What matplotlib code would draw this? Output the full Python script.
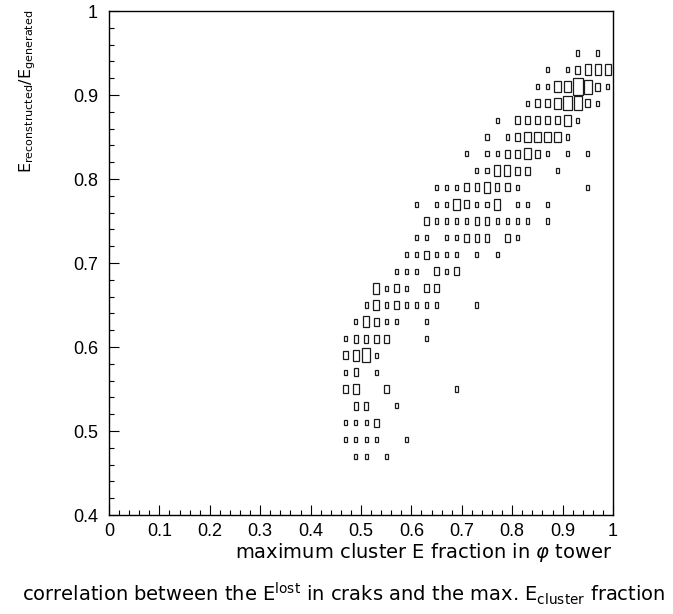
import matplotlib
matplotlib.use("Agg")
import matplotlib.pyplot as plt
from matplotlib.patches import Rectangle

# bin width of the 2D histogram (x and y)
bin_w = 0.02

# filled cells: x centre, y centre, relative content (1 = smallest box)
x_cells = [
    0.49, 0.51, 0.55,                                                  # y=0.47
    0.47, 0.49, 0.51, 0.53, 0.59,                                      # y=0.49
    0.47, 0.49, 0.51, 0.53,                                            # y=0.51
    0.49, 0.51, 0.57,                                                  # y=0.53
    0.47, 0.49, 0.55, 0.69,                                            # y=0.55
    0.47, 0.49, 0.53,                                                  # y=0.57
    0.47, 0.49, 0.51, 0.53,                                            # y=0.59
    0.47, 0.49, 0.51, 0.53, 0.55, 0.63,                                # y=0.61
    0.49, 0.51, 0.53, 0.55, 0.57, 0.63,                                # y=0.63
    0.51, 0.53, 0.55, 0.57, 0.59, 0.61, 0.63, 0.65, 0.73,              # y=0.65
    0.53, 0.55, 0.57, 0.59, 0.63, 0.65,                                # y=0.67
    0.57, 0.59, 0.61, 0.65, 0.67, 0.69,                                # y=0.69
    0.59, 0.61, 0.63, 0.65, 0.67, 0.69, 0.73, 0.77,                    # y=0.71
    0.61, 0.63, 0.67, 0.69, 0.71, 0.73, 0.75, 0.79, 0.81,              # y=0.73
    0.63, 0.65, 0.67, 0.69, 0.71, 0.73, 0.75, 0.77, 0.79, 0.81, 0.83, 0.87,  # y=0.75
    0.61, 0.65, 0.67, 0.69, 0.71, 0.73, 0.75, 0.77, 0.81, 0.83, 0.87,  # y=0.77
    0.65, 0.67, 0.69, 0.71, 0.73, 0.75, 0.77, 0.79, 0.81, 0.95,        # y=0.79
    0.73, 0.75, 0.77, 0.79, 0.81, 0.83, 0.89,                          # y=0.81
    0.71, 0.75, 0.77, 0.79, 0.81, 0.83, 0.85, 0.87, 0.91, 0.95,        # y=0.83
    0.75, 0.79, 0.81, 0.83, 0.85, 0.87, 0.89, 0.91,                    # y=0.85
    0.77, 0.81, 0.83, 0.85, 0.87, 0.89, 0.91, 0.93,                    # y=0.87
    0.83, 0.85, 0.87, 0.89, 0.91, 0.93, 0.95, 0.97,                    # y=0.89
    0.85, 0.87, 0.89, 0.91, 0.93, 0.95, 0.97, 0.99,                    # y=0.91
    0.87, 0.91, 0.93, 0.95, 0.97, 0.99,                                # y=0.93
    0.93, 0.97,                                                        # y=0.95
]
y_rows = [0.47, 0.49, 0.51, 0.53, 0.55, 0.57, 0.59, 0.61, 0.63, 0.65, 0.67, 0.69, 0.71,
          0.73, 0.75, 0.77, 0.79, 0.81, 0.83, 0.85, 0.87, 0.89, 0.91, 0.93, 0.95]
row_sizes = [3, 5, 4, 3, 4, 3, 4, 6, 6, 9, 6, 6, 8, 9, 12, 11, 10, 7, 10, 8, 8, 8, 8, 6, 2]
counts = [
    1, 1, 1,
    1, 1, 1, 1, 1,
    1, 1, 1, 2,
    2, 2, 1,
    2, 3, 2, 1,
    1, 2, 1,
    2, 3, 4, 1,
    1, 2, 2, 2, 2, 1,
    1, 3, 2, 1, 1, 1,
    1, 3, 1, 2, 1, 1, 1, 1, 1,
    3, 1, 2, 1, 2, 2,
    1, 1, 1, 2, 1, 2,
    1, 1, 2, 1, 1, 1, 1, 1,
    1, 1, 1, 1, 2, 2, 2, 2, 1,
    2, 1, 1, 1, 1, 2, 2, 1, 1, 1, 1, 1,
    1, 1, 1, 3, 2, 1, 1, 3, 1, 1, 1,
    1, 1, 1, 2, 2, 3, 2, 2, 1, 1,
    1, 1, 3, 3, 2, 2, 1,
    1, 1, 1, 2, 2, 3, 2, 1, 1, 1,
    1, 1, 2, 3, 3, 3, 3, 1,
    1, 2, 2, 2, 2, 2, 3, 1,
    1, 2, 2, 3, 4, 4, 2, 1,
    1, 1, 3, 3, 5, 4, 2, 1,
    1, 1, 2, 3, 3, 3,
    1, 1,
]

y_cells = []
for yv, n in zip(y_rows, row_sizes):
    y_cells += [yv] * n

x_ticks = [0, 0.1, 0.2, 0.3, 0.4, 0.5, 0.6, 0.7, 0.8, 0.9, 1]
x_tick_labels = ["0", "0.1", "0.2", "0.3", "0.4", "0.5", "0.6", "0.7", "0.8", "0.9", "1"]
y_ticks = [0.4, 0.5, 0.6, 0.7, 0.8, 0.9, 1]
y_tick_labels = ["0.4", "0.5", "0.6", "0.7", "0.8", "0.9", "1"]

fig = plt.figure(figsize=(6.73, 6.14), dpi=100)
ax = fig.add_axes([109 / 673, 99 / 614, 504 / 673, 504 / 614])

cmax = max(counts)
for xc, yc, c in zip(x_cells, y_cells, counts):
    frac = 0.3 + 0.7 * (c - 1) / (cmax - 1)
    w = bin_w * frac
    ax.add_patch(Rectangle((xc - w / 2, yc - w / 2), w, w, fill=False,
                           edgecolor="#1a1a1a", linewidth=0.9))

ax.set_xlim(0, 1)
ax.set_ylim(0.4, 1.0)
ax.set_xticks(x_ticks)
ax.set_xticklabels(x_tick_labels)
ax.set_yticks(y_ticks)
ax.set_yticklabels(y_tick_labels)
ax.set_xticks([i * 0.02 for i in range(51)], minor=True)
ax.set_yticks([0.4 + i * 0.02 for i in range(31)], minor=True)
ax.tick_params(which="both", direction="in", top=False, right=False,
               width=0.8, color="black")
ax.tick_params(which="major", length=7, labelsize=13)
ax.tick_params(axis="x", which="major", pad=6)
ax.tick_params(axis="y", which="major", pad=8)
ax.tick_params(which="minor", length=3.5)
for lab in ax.get_xticklabels() + ax.get_yticklabels():
    lab.set_family("Liberation Sans")
for s in ax.spines.values():
    s.set_linewidth(1.0)

fig.text(612 / 673, 1 - 552 / 614, r"maximum cluster E fraction in $\varphi$ tower",
         ha="right", va="center", fontsize=14)
fig.text(28 / 673, 1 - 10 / 614, r"$\mathregular{E_{reconstructed}/E_{generated}}$",
         rotation=90, ha="center", va="top", fontsize=11.5)
fig.text(344 / 673, 1 - 594 / 614,
         r"correlation between the $\mathregular{E^{lost}}$ in craks and the max. "
         r"$\mathregular{E_{cluster}}$ fraction",
         ha="center", va="center", fontsize=14)

fig.savefig("out.png", dpi=100)
